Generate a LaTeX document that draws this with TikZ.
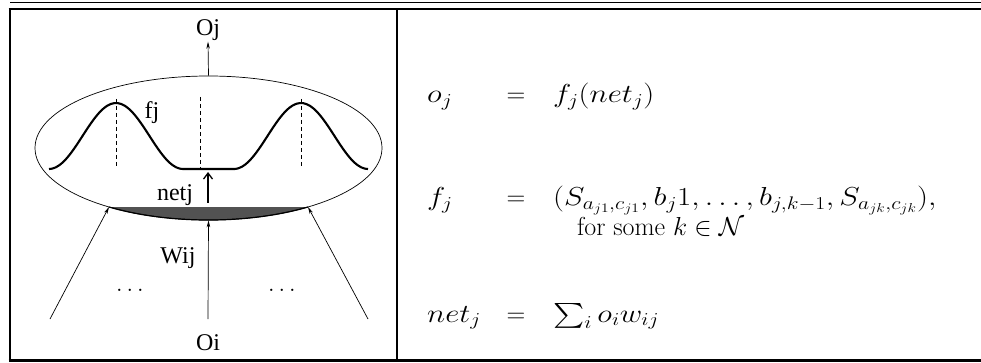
\RequirePackage{fix-cm}
\documentclass[tikz,border=0pt]{standalone}
\usepackage{exscale}
\usepackage{graphicx}
\usepackage{fontspec}
\newfontfamily\tms{Liberation Serif}
\usetikzlibrary{arrows.meta,shapes.geometric}
\newcommand{\widemath}[1]{\scalebox{1.19}[1]{#1}}
\tikzset{
  frame/.style={line width=2.6pt},
  lbl/.style={font=\tms\fontsize{24}{27}\selectfont, inner sep=1pt},
  eq/.style={font=\fontsize{26}{31}\selectfont, inner sep=0pt, anchor=base west},
  eqc/.style={font=\fontsize{26}{31}\selectfont, inner sep=0pt, anchor=base},
  thinarrow/.style={line width=0.7pt, -{Stealth[length=7pt,width=3.5pt]}},
  curve/.style={line width=2.1pt, line join=round},
  guide/.style={line width=0.7pt, dashed, dash pattern=on 4pt off 3pt},
}
\begin{document}
\begin{tikzpicture}[x=1pt,y=-1pt]
\useasboundingbox (0,0) rectangle (981,363);
% frame
\draw[line width=1.8pt] (10,2.6) -- (981,2.6);
\draw[frame] (8.7,9) -- (981,9);
\draw[frame] (10,9) -- (10,360.5);
\draw[frame] (8.7,360.5) -- (981,360.5);
\draw[frame] (397,9) -- (397,360.5);
% ellipse and grey band
\begin{scope}
  \clip (208.5,148) ellipse [x radius=173.5, y radius=72];
  \fill[black!68] (30,207) rectangle (390,230);
\end{scope}
\node[draw, line width=0.7pt, ellipse, minimum width=347pt, minimum height=144pt, inner sep=0pt] (E) at (208.5,148) {};
\draw[line width=1.2pt] (208.5,148) ++(-99.5,59) arc[start angle=125, end angle=55, x radius=173.5, y radius=72];
% transfer function
\draw[curve] plot[domain=49:183, samples=40, smooth] (\x, {169-33*(1+cos(180*(\x-116)/67))})
  -- plot[domain=235:368, samples=40, smooth] (\x, {169-33*(1+cos(180*(\x-301)/67))});
\draw[guide] (116,99) -- (116,168);
\draw[guide] (200,97) -- (200,169);
\draw[guide] (301,99) -- (301,168);
% labels
\node[lbl] (Oj) at (208,30) {Oj};
\node[lbl] (fj) at (152,113) {fj};
\node[lbl] (netj) at (175,195) {netj};
\node[lbl] (Wij) at (178,258) {Wij};
\node[lbl] (d1) at (130,290) {$\ldots$};
\node[lbl] (d2) at (282,290) {$\ldots$};
\node[lbl] (Oi) at (208,343) {Oi};
% connectors
\coordinate (i1) at (50,319);
\coordinate (i2) at (208,319);
\coordinate (i3) at (368,319);
\coordinate (c1) at (109,207);
\coordinate (c3) at (308,207);
\coordinate (nb) at (208,203);
\coordinate (nt) at (208,172);
\draw[thinarrow] (E.north) -- (Oj.south);
\draw[thinarrow] (i1) -- (c1);
\draw[thinarrow] (i2) -- (E.south);
\draw[thinarrow] (i3) -- (c3);
\draw[line width=1.3pt, -{Straight Barb[length=6pt,width=9pt]}] (nb) -- (nt);
% equations
\node[eq] (l1) at (427,103) {\widemath{$o_j$}};
\node[eqc] (e1) at (516,103) {$=$};
\node[eq] (r1) at (553,103) {\widemath{$f_j(net_j)$}};
\node[eq] (l2) at (427,206) {\widemath{$f_j$}};
\node[eqc] (e2) at (516,206) {$=$};
\node[eq] (r2) at (553,206) {\widemath{$(S_{a_{j1},c_{j1}},b_j1,\ldots,b_{j,k-1},S_{a_{jk},c_{jk}}),$}};
\node[eq] (r2b) at (577,235) {for some $k\in\mathcal{N}$};
\node[eq] (l3) at (427,322) {\widemath{$net_j$}};
\node[eqc] (e3) at (516,322) {$=$};
\node[eq] (r3) at (553,322) {\widemath{$\sum_i o_i w_{ij}$}};
\end{tikzpicture}
\end{document}
